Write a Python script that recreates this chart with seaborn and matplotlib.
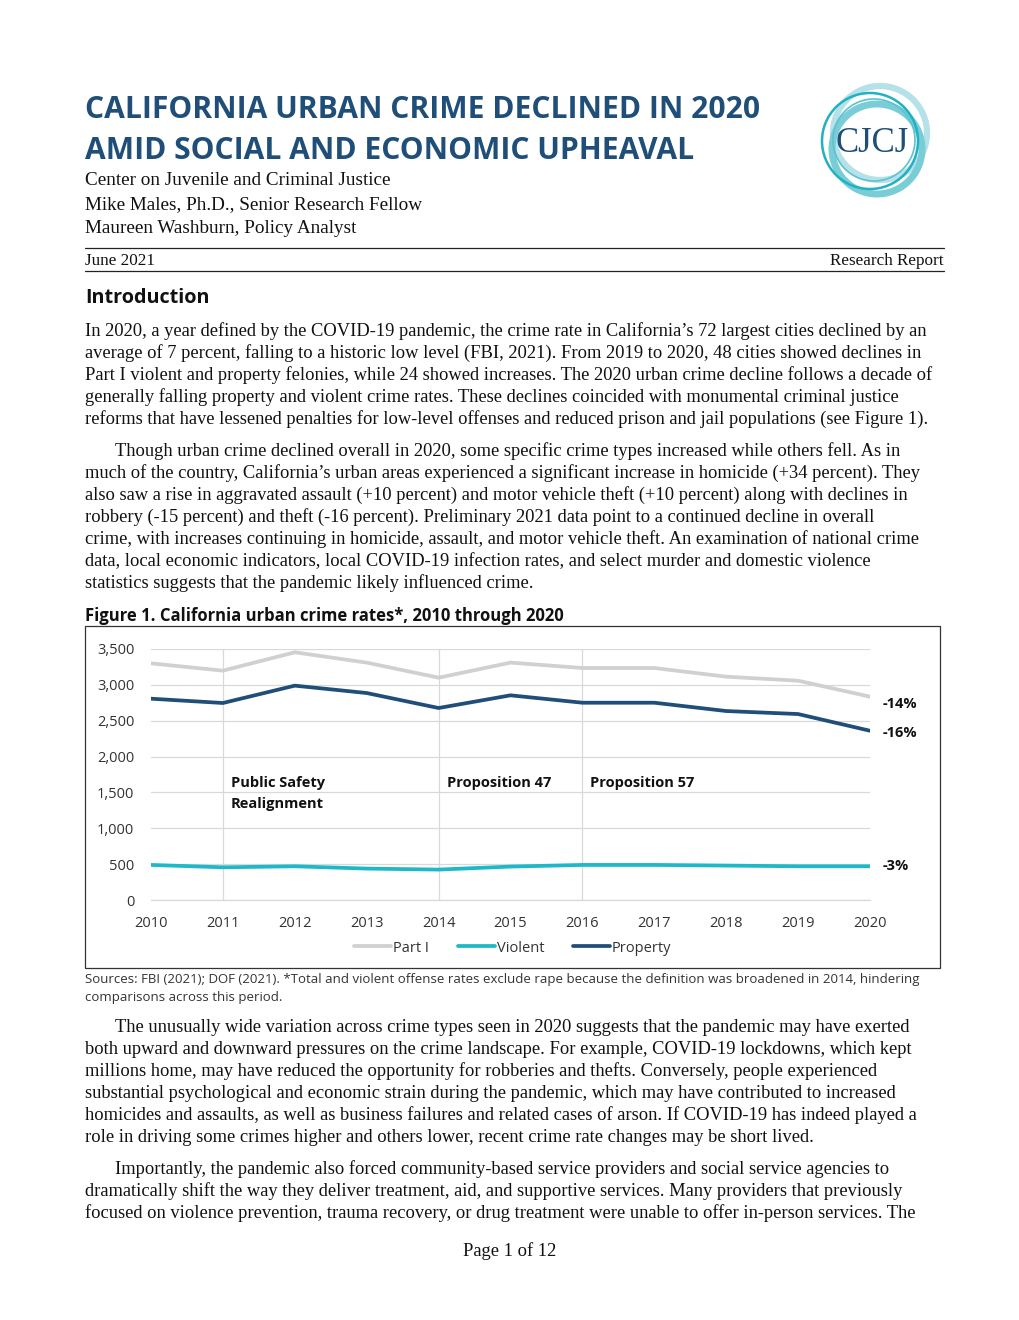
import numpy as np
import pandas as pd
import matplotlib
matplotlib.use("Agg")
import matplotlib.pyplot as plt
import seaborn as sns
from matplotlib.patches import Circle, Rectangle
from matplotlib.lines import Line2D

# ---------------- data ----------------
years = [2010, 2011, 2012, 2013, 2014, 2015, 2016, 2017, 2018, 2019, 2020]
part1 = [3300, 3198, 3454, 3310, 3100, 3310, 3235, 3235, 3114, 3058, 2835]
violent = [489, 456, 470, 438, 424, 466, 489, 489, 480, 470, 470]
property_ = [2807, 2747, 2989, 2886, 2677, 2854, 2751, 2751, 2635, 2593, 2360]
series_names = ["Part I", "Violent", "Property"]
series_colors = ["#D0D0D0", "#1DB9C9", "#1F4E79"]
change_labels = ["-14%", "-3%", "-16%"]
policy_years = [2011, 2014, 2016]
policy_labels = ["Public Safety\nRealignment", "Proposition 47", "Proposition 57"]
yticks = [0, 500, 1000, 1500, 2000, 2500, 3000, 3500]

title_lines = ["CALIFORNIA URBAN CRIME DECLINED IN 2020",
               "AMID SOCIAL AND ECONOMIC UPHEAVAL"]
byline = ["Center on Juvenile and Criminal Justice",
          "Mike Males, Ph.D., Senior Research Fellow",
          "Maureen Washburn, Policy Analyst"]
date_text = "June 2021"
report_type = "Research Report"
section_title = "Introduction"
para1 = ["In 2020, a year defined by the COVID-19 pandemic, the crime rate in California’s 72 largest cities declined by an",
         "average of 7 percent, falling to a historic low level (FBI, 2021). From 2019 to 2020, 48 cities showed declines in",
         "Part I violent and property felonies, while 24 showed increases. The 2020 urban crime decline follows a decade of",
         "generally falling property and violent crime rates. These declines coincided with monumental criminal justice",
         "reforms that have lessened penalties for low-level offenses and reduced prison and jail populations (see Figure 1)."]
para2 = ["Though urban crime declined overall in 2020, some specific crime types increased while others fell. As in",
         "much of the country, California’s urban areas experienced a significant increase in homicide (+34 percent). They",
         "also saw a rise in aggravated assault (+10 percent) and motor vehicle theft (+10 percent) along with declines in",
         "robbery (-15 percent) and theft (-16 percent). Preliminary 2021 data point to a continued decline in overall",
         "crime, with increases continuing in homicide, assault, and motor vehicle theft. An examination of national crime",
         "data, local economic indicators, local COVID-19 infection rates, and select murder and domestic violence",
         "statistics suggests that the pandemic likely influenced crime."]
fig_caption = "Figure 1. California urban crime rates*, 2010 through 2020"
sources = ["Sources: FBI (2021); DOF (2021). *Total and violent offense rates exclude rape because the definition was broadened in 2014, hindering",
           "comparisons across this period."]
para3 = ["The unusually wide variation across crime types seen in 2020 suggests that the pandemic may have exerted",
         "both upward and downward pressures on the crime landscape. For example, COVID-19 lockdowns, which kept",
         "millions home, may have reduced the opportunity for robberies and thefts. Conversely, people experienced",
         "substantial psychological and economic strain during the pandemic, which may have contributed to increased",
         "homicides and assaults, as well as business failures and related cases of arson. If COVID-19 has indeed played a",
         "role in driving some crimes higher and others lower, recent crime rate changes may be short lived."]
para4 = ["Importantly, the pandemic also forced community-based service providers and social service agencies to",
         "dramatically shift the way they deliver treatment, aid, and supportive services. Many providers that previously",
         "focused on violence prevention, trauma recovery, or drug treatment were unable to offer in-person services. The"]
page_text = "Page 1 of 12"

# ---------------- style ----------------
sns.set_style("white")
plt.rcParams["font.family"] = ["Open Sans", "DejaVu Sans"]
W, H = 1020, 1320
fig = plt.figure(figsize=(W / 100, H / 100), dpi=100)
fig.patch.set_facecolor("white")
renderer = fig.canvas.get_renderer()

SERIF = ["Liberation Serif", "DejaVu Serif"]
SANS = ["Open Sans", "DejaVu Sans"]
NAVY = "#1F4E79"


def fy(y):
    return 1 - y / H


def fit_size(s, target, **kw):
    t = fig.text(0, 0, s, fontsize=10, **kw)
    w = t.get_window_extent(renderer).width
    t.remove()
    return 10 * target / w


def ptext(x, y, s, **kw):
    return fig.text(x / W, fy(y), s, va="baseline", **kw)


# ---------------- header ----------------
ts = fit_size(title_lines[0], 673, family=SANS, weight="bold")
ptext(85, 118, title_lines[0], family=SANS, weight="bold", fontsize=ts, color=NAVY)
ptext(85, 159, title_lines[1], family=SANS, weight="bold", fontsize=ts, color=NAVY)

bs = fit_size(byline[0], 305, family=SERIF)
for i, s in enumerate(byline):
    ptext(85, 185 + 24 * i, s, family=SERIF, fontsize=bs, color="#111111")

fig.add_artist(Line2D([85 / W, 944 / W], [fy(248), fy(248)], color="#222222", lw=0.9))
fig.add_artist(Line2D([85 / W, 944 / W], [fy(271), fy(271)], color="#222222", lw=0.9))
ds = fit_size(date_text, 70, family=SERIF)
ptext(85, 265, date_text, family=SERIF, fontsize=ds, color="#111111")
ptext(944, 265, report_type, family=SERIF, fontsize=ds, color="#111111", ha="right")

# logo
lax = fig.add_axes([800 / W, fy(210), 140 / W, 140 / H])
lax.set_xlim(800, 940)
lax.set_ylim(210, 70)
lax.set_aspect("equal")
lax.axis("off")
lax.add_patch(Circle((880, 133), 47, fill=False, lw=4.5, ec="#B5E1E8"))
lax.add_patch(Circle((877, 149), 45, fill=False, lw=5.0, ec="#79CDD7"))
lax.add_patch(Circle((870, 141), 48, fill=False, lw=1.8, ec="#21B1C3"))
lax.add_patch(Circle((874, 140), 41, fill=False, lw=1.2, ec="#5BC3CF"))
lax.text(872, 143, "CJCJ", family=SERIF, fontsize=25, color=NAVY, ha="center", va="center")

# ---------------- body ----------------
hs = fit_size(section_title, 125, family=SANS, weight="bold")
ptext(85, 303, section_title, family=SANS, weight="bold", fontsize=hs, color="#111111")

body = fit_size(para1[0], 844, family=SERIF)


def paragraph(lines, y0, indent=True):
    for i, s in enumerate(lines):
        x = 115 if (i == 0 and indent) else 85
        ptext(x, y0 + 22 * i, s, family=SERIF, fontsize=body, color="#111111")


paragraph(para1, 336, indent=False)
paragraph(para2, 456)

cs = fit_size(fig_caption, 480, family=SANS, weight="bold")
ptext(85, 621, fig_caption, family=SANS, weight="bold", fontsize=cs, color="#111111")

ss = fit_size(sources[0], 835, family=SANS)
ptext(85, 983, sources[0], family=SANS, fontsize=ss, color="#333333")
ptext(85, 1001, sources[1], family=SANS, fontsize=ss, color="#333333")

paragraph(para3, 1032)
paragraph(para4, 1174)
ptext(510, 1256, page_text, family=SERIF, fontsize=body, color="#111111", ha="center")

# chart frame
fig.add_artist(Rectangle((85 / W, fy(968)), 855 / W, 342 / H, fill=False,
                         ec="#333333", lw=0.9, transform=fig.transFigure))

# ---------------- chart ----------------
df = pd.DataFrame({
    "year": years * 3,
    "rate": part1 + violent + property_,
    "series": [series_names[0]] * len(years) + [series_names[1]] * len(years) + [series_names[2]] * len(years),
})
ax = fig.add_axes([151 / W, fy(900), 719 / W, 251 / H])
ax.vlines(policy_years, 0, 3500, color="#D9D9D9", lw=0.9, zorder=1)
sns.lineplot(data=df, x="year", y="rate", hue="series", hue_order=series_names,
             palette=series_colors, linewidth=2.7, ax=ax, zorder=3)
ax.set_xlim(2010, 2020)
ax.set_ylim(0, 3500)
ax.set_xticks(years)
ax.set_yticks(yticks)
ax.set_yticklabels([f"{v:,}" for v in yticks])
ax.set_xlabel("")
ax.set_ylabel("")
ax.yaxis.grid(True, color="#D9D9D9", lw=0.9)
ax.set_axisbelow(True)
for sp in ["top", "right", "left"]:
    ax.spines[sp].set_visible(False)
ax.spines["bottom"].set_color("#D9D9D9")
ax.spines["bottom"].set_linewidth(0.9)
ax.tick_params(axis="x", length=4, width=0.9, color="#D9D9D9", labelcolor="#333333",
               labelsize=10.5, pad=7.5)
ax.tick_params(axis="y", length=0, labelcolor="#333333", labelsize=10.5, pad=12)
ax.patch.set_alpha(0)

last_vals = [part1[-1], violent[-1], property_[-1]]
label_offsets = [-95, 4, -30]
for lab, v, off in zip(change_labels, last_vals, label_offsets):
    ax.text(2020.17, v + off, lab, fontsize=10.5, weight="bold", color="#111111",
            va="center", ha="left", clip_on=False)

for yr, lab in zip(policy_years, policy_labels):
    ax.text(yr + 0.11, 1730, lab, fontsize=10.5, weight="bold", color="#111111",
            va="top", ha="left", linespacing=1.6)

sns.move_legend(ax, "center", bbox_to_anchor=(513 / W, fy(948)), bbox_transform=fig.transFigure,
                ncol=3, title=None, frameon=False, fontsize=10.5, handlelength=2.5,
                handletextpad=0.15, columnspacing=2.0)
for t in ax.get_legend().get_texts():
    t.set_color("#333333")

fig.savefig("out.png", dpi=100, facecolor="white")
